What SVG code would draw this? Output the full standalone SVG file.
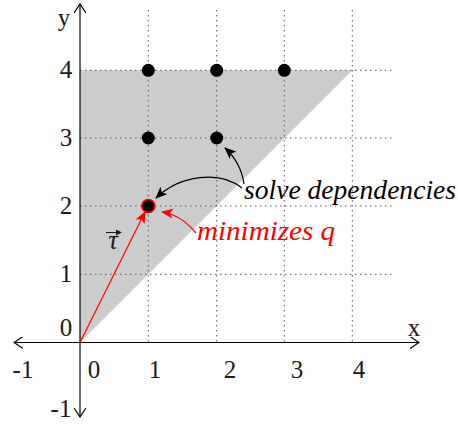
<svg xmlns="http://www.w3.org/2000/svg" width="458" height="425" viewBox="0 0 458 425">
<style>
.grid{stroke:#555;stroke-width:1;stroke-dasharray:1.5 3.5;fill:none}
.axis{stroke:#000;stroke-width:1.2;fill:none}
text{font-family:'Liberation Serif','Times New Roman',Tinos,'Nimbus Roman','DejaVu Serif',serif}
.lbl{font-size:25px;fill:#1a1a1a}
.it{font-style:italic;font-size:27px}
.dot{fill:#000}
</style>
<defs>
<marker id="open" viewBox="0 0 10 12" refX="9" refY="6" markerWidth="10" markerHeight="12" markerUnits="userSpaceOnUse" orient="auto">
<path d="M0,0 L9,6 L0,12" fill="none" stroke="#000" stroke-width="1.2"/>
</marker>
<marker id="hb" viewBox="0 0 12 10" refX="11" refY="5" markerWidth="12" markerHeight="10" markerUnits="userSpaceOnUse" orient="auto">
<path d="M0,0 L12,5 L0,10 L3,5 z" fill="#000"/>
</marker>
<marker id="hr" viewBox="0 0 12 10" refX="11" refY="5" markerWidth="12" markerHeight="10" markerUnits="userSpaceOnUse" orient="auto">
<path d="M0,0 L12,5 L0,10 L3,5 z" fill="#f00"/>
</marker>
<marker id="vec" viewBox="0 0 6 6" refX="5" refY="3" markerWidth="6" markerHeight="6" markerUnits="userSpaceOnUse" orient="auto">
<path d="M0,0 L6,3 L0,6 z" fill="#1a1a1a"/>
</marker>
</defs>
<polygon id="region" points="80,342.5 80,70.3 352.3,70.3" fill="#cccccc"/>
<g id="grid">
<path class="grid" d="M148.3,10V343 M216.7,10V343 M284.3,10V343 M352.3,10V343"/>
<path class="grid" d="M80,70.3H395 M80,138H395 M80,206H395 M80,274.3H395"/>
</g>
<g id="axes">
<path class="axis" d="M80,342.5V4" marker-end="url(#open)"/>
<path class="axis" d="M80,342.5H419" marker-end="url(#open)"/>
<path class="axis" d="M80,342.5H14" marker-end="url(#open)"/>
<path class="axis" d="M80,342.5V417" marker-end="url(#open)"/>
</g>
<g id="labels" class="lbl">
<text x="64" y="26" text-anchor="middle">y</text>
<text x="414" y="336" text-anchor="middle">x</text>
<text x="66" y="78" text-anchor="middle">4</text>
<text x="66" y="146" text-anchor="middle">3</text>
<text x="66" y="214" text-anchor="middle">2</text>
<text x="66" y="282" text-anchor="middle">1</text>
<text x="66" y="336" text-anchor="middle">0</text>
<text x="23" y="378" text-anchor="middle">-1</text>
<text x="94" y="378" text-anchor="middle">0</text>
<text x="155" y="378" text-anchor="middle">1</text>
<text x="230" y="378" text-anchor="middle">2</text>
<text x="297" y="378" text-anchor="middle">3</text>
<text x="359" y="378" text-anchor="middle">4</text>
<text x="61" y="417" text-anchor="middle">-1</text>
</g>
<g id="connectors">
<path d="M80,342.5 L145,212" stroke="#f00" stroke-width="1.2" fill="none" marker-end="url(#hr)"/>
<path d="M242,188 C220,170 180,175 156,198" stroke="#000" stroke-width="1.2" fill="none" marker-end="url(#hb)"/>
<path d="M244,184 C242,170 236,158 225,148" stroke="#000" stroke-width="1.2" fill="none" marker-end="url(#hb)"/>
<path d="M196,233 C186,221 176,214 162,212" stroke="#f00" stroke-width="1.2" fill="none" marker-end="url(#hr)"/>
</g>
<g id="n14"><circle class="dot" cx="148.3" cy="70.3" r="6.5"/></g>
<g id="n24"><circle class="dot" cx="216.7" cy="70.3" r="6.5"/></g>
<g id="n34"><circle class="dot" cx="284.3" cy="70.3" r="6.5"/></g>
<g id="n13"><circle class="dot" cx="148.3" cy="138" r="6.5"/></g>
<g id="n23"><circle class="dot" cx="216.7" cy="138" r="6.5"/></g>
<g id="n12"><circle class="dot" cx="148.3" cy="206" r="6.5" stroke="#f00" stroke-width="1.5"/></g>
<g id="tau">
<text class="it" x="113" y="249" text-anchor="middle" fill="#1a1a1a">τ</text>
<path d="M106,232.5H121" stroke="#1a1a1a" stroke-width="1" marker-end="url(#vec)"/>
</g>
<g id="solve"><text class="it" x="244" y="199" textLength="212" lengthAdjust="spacingAndGlyphs" fill="#000">solve dependencies</text></g>
<g id="minq"><text class="it" x="197" y="240" textLength="138" lengthAdjust="spacingAndGlyphs" fill="#f00">minimizes q</text></g>
</svg>
